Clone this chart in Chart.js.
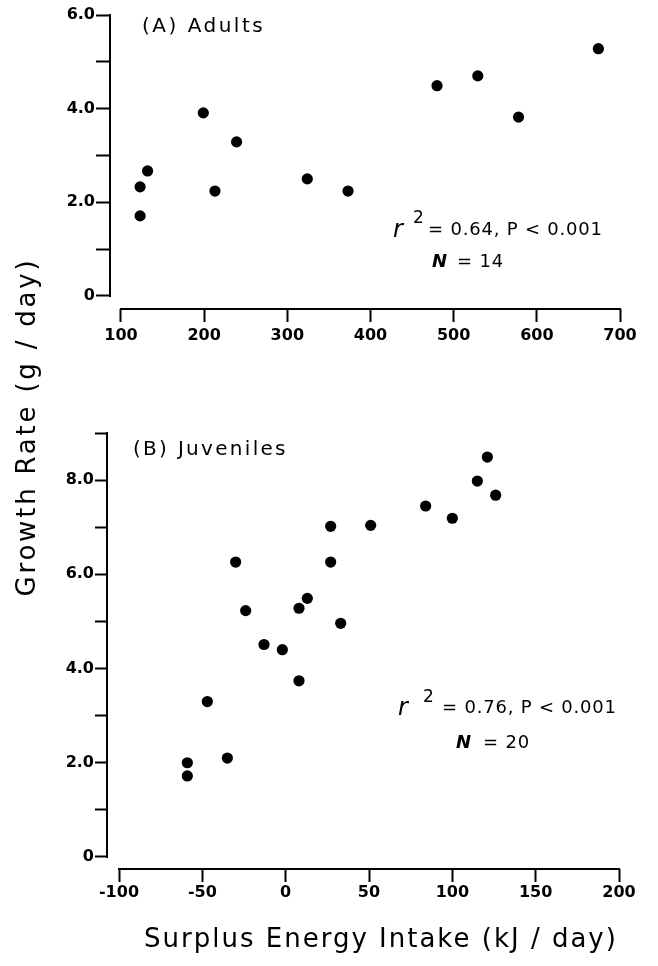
<!DOCTYPE html>
<html>
<head>
<meta charset="utf-8">
<script src="https://cdn.jsdelivr.net/npm/chart.js@4.4.1/dist/chart.umd.min.js"></script>
<style>
  html, body { margin: 0; padding: 0; background: #fff; }
  #wrap { position: relative; width: 658px; height: 966px; }
  canvas { position: absolute; left: 0; top: 0; }
</style>
</head>
<body>
<div id="wrap">
  <canvas id="chartA" width="658" height="380"></canvas>
  <canvas id="chartB" width="658" height="966"></canvas>
</div>
<script>
// (A) Adults
const adultsX = [123, 123, 132, 199, 213, 239, 324, 373, 480, 529, 578, 674];
const adultsY = [2.33, 1.71, 2.67, 3.91, 2.24, 3.29, 2.5, 2.24, 4.49, 4.7, 3.82, 5.28];
const adultsXTicks = [100, 200, 300, 400, 500, 600, 700];
const adultsYTicks = [0, 1, 2, 3, 4, 5, 6];
const adultsYLabels = ["0", "", "2.0", "", "4.0", "", "6.0"];

// (B) Juveniles
const juvX = [-59, -59, -47, -35, -30, -24, -13, -2, 8, 8, 13, 27, 27, 33, 51, 84, 100, 115, 121, 126];
const juvY = [2.0, 1.72, 3.3, 2.1, 6.26, 5.23, 4.51, 4.4, 5.28, 3.74, 5.49, 7.02, 6.26, 4.96, 7.04, 7.45, 7.19, 7.98, 8.49, 7.68];
const juvXTicks = [-100, -50, 0, 50, 100, 150, 200];
const juvYTicks = [0, 1, 2, 3, 4, 5, 6, 7, 8, 9];
const juvYLabels = ["0", "", "2.0", "", "4.0", "", "6.0", "", "8.0", ""];

const FONT = "'DejaVu Sans', sans-serif";

function drawText(ctx, str, x, y, font, spacing, align) {
  ctx.save();
  ctx.font = font;
  ctx.letterSpacing = spacing + "px";
  ctx.fillStyle = "#000";
  ctx.textBaseline = "middle";
  ctx.textAlign = align || "left";
  ctx.fillText(str, x, y);
  ctx.restore();
}

function drawStats(ctx, s) {
  drawText(ctx, "r", s.x, s.y + 1, "italic 24px " + FONT, 0);
  drawText(ctx, "2", s.supX, s.supY, "17px " + FONT, 0);
  drawText(ctx, s.rest, s.restX, s.y, "18px " + FONT, 0.8);
  drawText(ctx, "N", s.nX, s.nY, "bold italic 18px " + FONT, 0);
  drawText(ctx, s.nRest, s.nRestX, s.nY, "18px " + FONT, 0.8);
}

const axisPlugin = {
  id: "oldAxes",
  afterDraw(chart, args, opts) {
    const ctx = chart.ctx;
    const { x, y } = chart.scales;
    const area = chart.chartArea;
    const xt = opts.xTicks, yt = opts.yTicks;
    ctx.save();
    ctx.strokeStyle = "#000";
    ctx.lineWidth = 2;
    ctx.lineCap = "square";
    ctx.beginPath();
    ctx.moveTo(area.left, y.getPixelForValue(yt[0]));
    ctx.lineTo(area.left, y.getPixelForValue(yt[yt.length - 1]));
    ctx.moveTo(x.getPixelForValue(xt[0]), area.bottom);
    ctx.lineTo(x.getPixelForValue(xt[xt.length - 1]), area.bottom);
    ctx.stroke();
    ctx.restore();
    drawText(ctx, opts.title, opts.titleX, opts.titleY, "20px " + FONT, opts.titleSpacing);
    drawStats(ctx, opts.stats);
    if (opts.extra) opts.extra(ctx);
  },
};

function makePanel(id, p) {
  return new Chart(document.getElementById(id), {
    type: "scatter",
    data: {
      datasets: [{
        data: p.xs.map((v, i) => ({ x: v, y: p.ys[i] })),
        pointRadius: 5.6,
        pointBackgroundColor: "#000",
        pointBorderWidth: 0,
        clip: false,
      }],
    },
    options: {
      responsive: false,
      animation: false,
      layout: { padding: p.padding },
      plugins: {
        legend: { display: false },
        tooltip: { enabled: false },
        oldAxes: p.decor,
      },
      scales: {
        x: {
          type: "linear",
          min: p.xMin,
          max: p.xMax,
          border: { display: false },
          grid: { drawOnChartArea: false, tickLength: p.xTickLen, tickWidth: 2, tickColor: "#000" },
          ticks: {
            autoSkip: false,
            maxRotation: 0,
            padding: p.xPad,
            color: "#000",
            font: { family: FONT, size: 16, weight: "bold" },
          },
          afterBuildTicks: (s) => { s.ticks = p.xTicks.map((v) => ({ value: v })); },
          afterFit: (s) => { s.height = p.xAxisHeight; },
        },
        y: {
          type: "linear",
          min: p.yMin,
          max: p.yMax,
          border: { display: false },
          grid: { drawOnChartArea: false, tickLength: p.yTickLen, tickWidth: 2, tickColor: "#000" },
          ticks: {
            padding: 1,
            color: "#000",
            font: { family: FONT, size: 16, weight: "bold" },
            callback: (v, i) => p.yLabels[i],
          },
          afterBuildTicks: (s) => { s.ticks = p.yTicks.map((v) => ({ value: v })); },
          afterFit: (s) => { s.width = p.yAxisWidth; },
        },
      },
    },
    plugins: [axisPlugin],
  });
}

makePanel("chartA", {
  xs: adultsX, ys: adultsY,
  xTicks: adultsXTicks, yTicks: adultsYTicks, yLabels: adultsYLabels,
  xMin: 86.8, xMax: 700, yMin: -0.278, yMax: 6,
  xTickLen: 13, yTickLen: 14, xPad: 4,
  yAxisWidth: 110, xAxisHeight: 71,
  padding: { left: 0, right: 38, top: 15, bottom: 0 },
  decor: {
    xTicks: adultsXTicks, yTicks: adultsYTicks,
    title: "(A) Adults", titleX: 142, titleY: 27, titleSpacing: 2.5,
    stats: {
      x: 393, y: 230, supX: 413, supY: 219, rest: "= 0.64, P < 0.001", restX: 428,
      nX: 432, nY: 262, nRest: "= 14", nRestX: 457,
    },
  },
});

makePanel("chartB", {
  xs: juvX, ys: juvY,
  xTicks: juvXTicks, yTicks: juvYTicks, yLabels: juvYLabels,
  xMin: -107.2, xMax: 200, yMin: -0.255, yMax: 9,
  xTickLen: 13, yTickLen: 12, xPad: 1,
  yAxisWidth: 107, xAxisHeight: 97,
  padding: { left: 0, right: 39, top: 433, bottom: 0 },
  decor: {
    xTicks: juvXTicks, yTicks: juvYTicks,
    title: "(B) Juveniles", titleX: 133, titleY: 450, titleSpacing: 2.3,
    stats: {
      x: 398, y: 708, supX: 423, supY: 698, rest: "= 0.76, P < 0.001", restX: 442,
      nX: 456, nY: 743, nRest: "= 20", nRestX: 483,
    },
    extra: (ctx) => {
      drawText(ctx, "Surplus Energy Intake (kJ / day)", 381, 940, "26px " + FONT, 2, "center");
      ctx.save();
      ctx.translate(28, 427);
      ctx.rotate(-Math.PI / 2);
      drawText(ctx, "Growth Rate (g / day)", 0, 0, "26px " + FONT, 2.8, "center");
      ctx.restore();
    },
  },
});
</script>
</body>
</html>
